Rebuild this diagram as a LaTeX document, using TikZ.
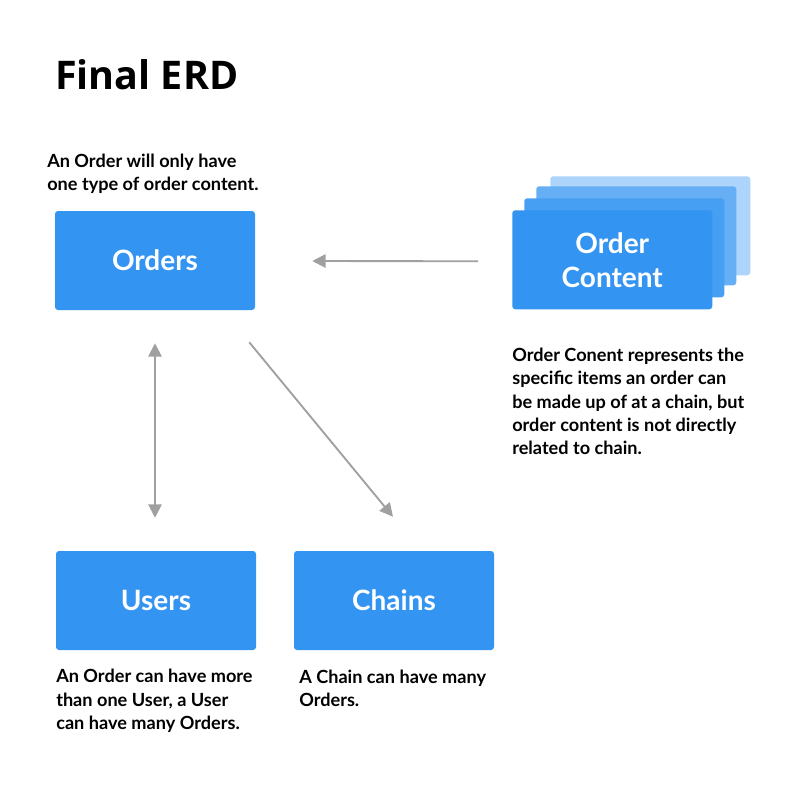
\documentclass[tikz,border=0pt]{standalone}
\usepackage{fontspec}
\setmainfont{Lato}
\newfontfamily\titlefont{Open Sans}
\usepackage{xcolor}
\usetikzlibrary{arrows.meta, positioning, calc}
\definecolor{boxblue}{RGB}{51,148,242}
\definecolor{linkgray}{RGB}{160,160,160}

\tikzset{
  entity/.style={fill=boxblue, rounded corners=2.25pt, minimum width=150pt,
                 minimum height=74.25pt, inner sep=0pt, text=white, align=center,
                 font=\bfseries\fontsize{21pt}{25.5pt}\selectfont},
  % base anchor of a multi-line note sits on its last line
  note/.style={anchor=base west, inner sep=0pt, align=left,
               font=\bfseries\fontsize{13.6pt}{17.45pt}\selectfont},
  link/.style={draw=linkgray, line width=1.4pt,
               -{Triangle[length=10pt,width=10pt]}},
}

\begin{document}
\begin{tikzpicture}[x=0.75pt, y=-0.75pt]
  \useasboundingbox (0,0) rectangle (798,800);

  %% ─── Title ────────────────────────────────────────────────────────────────
  \node[anchor=base west, inner sep=0pt,
        font=\titlefont\bfseries\fontsize{29.6pt}{34pt}\selectfont] (title)
    at (55,89) {Final ERD};

  %% ─── Entities ─────────────────────────────────────────────────────────────
  \node[entity] (orders) at (155,260.5) {Orders};
  \node[entity] (users)  at (156,600.5) {Users};
  \node[entity] (chains) at (394,600.5) {Chains};

  % stacked copies behind order content
  \foreach \i/\xl/\yt/\op in {3/550/176/40, 2/536/186/75, 1/524/198/90} {
    \node[entity, anchor=north west, fill=boxblue!\op] (layer\i) at (\xl,\yt) {};
  }
  \node[entity, anchor=north west] (content) at (512,210) {Order\\Content};

  %% ─── Notes ────────────────────────────────────────────────────────────────
  \node[note] (ordersnote) at (47,190.5)
    {An Order will only have\\one type of order content.};
  \node[note] (contentnote) at (512,454.7)
    {Order Conent represents the\\specific items an order can\\be made up of at a chain, but\\order content is not directly\\related to chain.};
  \node[note] (usersnote) at (56,729.5)
    {An Order can have more\\than one User, a User\\can have many Orders.};
  \node[note] (chainsnote) at (299,706.3)
    {A Chain can have many\\Orders.};

  %% ─── Relations ────────────────────────────────────────────────────────────
  \draw[link] ($(content.west)+(-34,1.5)$) -- ($(orders.east)+(57,0.5)$);
  \draw[link, {Triangle[length=10pt,width=10pt]}-{Triangle[length=10pt,width=10pt]}]
    ($(orders.south)+(0,33)$) -- ($(users.north)+(-1,-33)$);
  \draw[link] ($(orders.south east)+(-6,32)$) -- ($(chains.north)+(-1,-34)$);
\end{tikzpicture}
\end{document}
